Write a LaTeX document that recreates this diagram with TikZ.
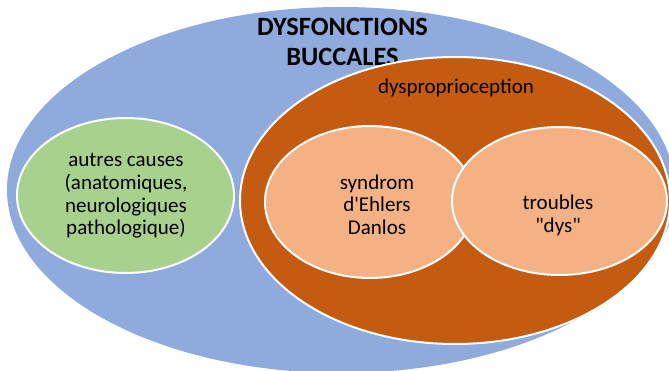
\documentclass[tikz,border=0pt]{standalone}
\usepackage{fontspec}
\setmainfont{Carlito}[Ligatures=TeXOff]
\definecolor{bluefill}{HTML}{8FAADC}
\definecolor{orangefill}{HTML}{C55A11}
\definecolor{peach}{HTML}{F4B183}
\definecolor{greenfill}{HTML}{A9D18E}
\tikzset{
  blob/.style={ellipse, draw=white, line width=2pt, inner sep=0pt},
  bodytext/.style={align=center, font=\fontsize{21}{22.7}\selectfont, text=black},
  titletext/.style={align=center, font=\fontsize{26.4}{30}\selectfont\bfseries, text=black},
}
\usetikzlibrary{shapes.geometric}
\begin{document}
\begin{tikzpicture}[x=1pt,y=-1pt]
\useasboundingbox (0,0) rectangle (669,371);
\clip (0,0) rectangle (669,371);
% outer blue
\fill[bluefill] (341,190) ellipse [x radius=334, y radius=183];
\node[titletext] (title) at (342.5,42) {DYSFONCTIONS\\BUCCALES};
% green
\filldraw[fill=greenfill, draw=white, line width=2pt] (125.5,195.5) ellipse [x radius=108.5, y radius=77.5];
\node[bodytext] (autres) at (126,196) {autres causes\\(anatomiques,\\neurologiques\\pathologique)};
% orange
\filldraw[fill=orangefill, draw=white, line width=2pt] (455,200.5) ellipse [x radius=215, y radius=143.5];
\node[bodytext] (dysp) at (456,88) {dysproprioception};
% inner
\filldraw[fill=peach, draw=white, line width=2pt] (370,202) ellipse [x radius=105, y radius=76];
\node[bodytext] (syn) at (377,204.5) {syndrom\\d'Ehlers\\Danlos};
\filldraw[fill=peach, draw=white, line width=2pt] (559.5,201) ellipse [x radius=107.5, y radius=74];
\node[bodytext] (tro) at (558,215.5) {troubles\\"dys"};
\end{tikzpicture}
\end{document}
